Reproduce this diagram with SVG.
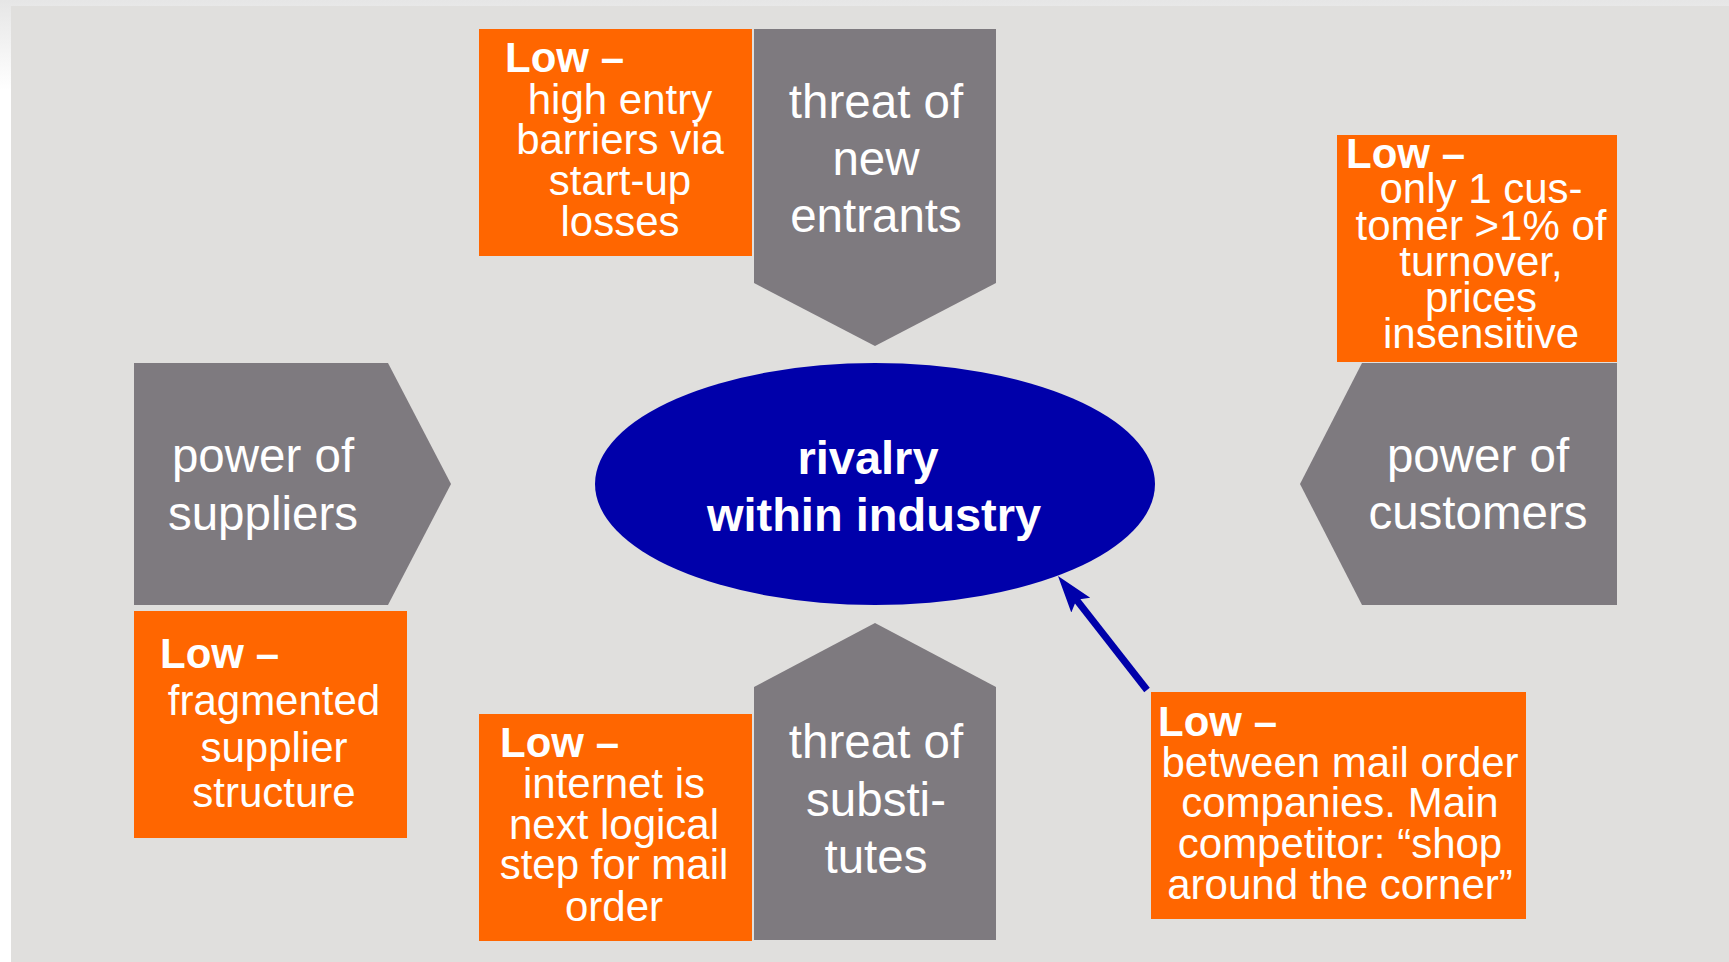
<svg xmlns="http://www.w3.org/2000/svg" width="1729" height="962" viewBox="0 0 1729 962">
  <defs>
    <linearGradient id="topfade" x1="0" y1="0" x2="0" y2="1">
      <stop offset="0" stop-color="#e6e6e6"/>
      <stop offset="1" stop-color="#ffffff"/>
    </linearGradient>
    <marker id="arrowhead" markerUnits="userSpaceOnUse" markerWidth="40" markerHeight="26" refX="17" refY="12" orient="auto">
      <path d="M0,0 L37,12 L0,24 L7,12 Z" fill="#0000AA"/>
    </marker>
    <style>
      .panel { fill: #E0DFDD; }
      .force { fill: #7E7A7F; }
      .box { fill: #FF6600; }
      .hub { fill: #0000AA; }
      text { font-family: "Liberation Sans", Arial, Helvetica, sans-serif; fill: #FFFFFF; }
      .lbl { font-size: 47.5px; text-anchor: middle; }
      .txt { font-size: 42px; text-anchor: middle; }
      .low { font-size: 42px; font-weight: bold; }
      .hubtxt { font-size: 47px; font-weight: bold; text-anchor: middle; }
      .conn { stroke: #0000AA; stroke-width: 7; fill: none; }
    </style>
  </defs>

  <rect x="0" y="0" width="1729" height="962" fill="#FFFFFF"/>
  <rect x="0" y="0" width="1729" height="90" fill="url(#topfade)"/>
  <rect class="panel" x="11" y="6" width="1718" height="956"/>

  <g id="threat-new-entrants">
    <path class="force" d="M754,29 L996,29 L996,283 L875,346 L754,283 Z"/>
    <text class="lbl" x="876" y="118">threat of</text>
    <text class="lbl" x="876" y="175">new</text>
    <text class="lbl" x="876" y="232">entrants</text>
  </g>

  <g id="note-new-entrants">
    <rect class="box" x="479" y="29" width="273" height="227"/>
    <text class="low" x="505" y="72">Low –</text>
    <text class="txt" x="620" y="114">high entry</text>
    <text class="txt" x="620" y="154">barriers via</text>
    <text class="txt" x="620" y="195">start-up</text>
    <text class="txt" x="620" y="236">losses</text>
  </g>

  <g id="power-customers">
    <path class="force" d="M1362,363 L1617,363 L1617,605 L1362,605 L1300,484 Z"/>
    <text class="lbl" x="1478" y="472">power of</text>
    <text class="lbl" x="1478" y="529">customers</text>
  </g>

  <g id="note-customers">
    <rect class="box" x="1337" y="135" width="280" height="227"/>
    <text class="low" x="1346" y="168">Low –</text>
    <text class="txt" x="1481" y="203">only 1 cus-</text>
    <text class="txt" x="1481" y="240">tomer &gt;1% of</text>
    <text class="txt" x="1481" y="276">turnover,</text>
    <text class="txt" x="1481" y="312">prices</text>
    <text class="txt" x="1481" y="348">insensitive</text>
  </g>

  <g id="power-suppliers">
    <path class="force" d="M134,363 L388,363 L451,484 L388,605 L134,605 Z"/>
    <text class="lbl" x="263" y="472">power of</text>
    <text class="lbl" x="263" y="530">suppliers</text>
  </g>

  <g id="note-suppliers">
    <rect class="box" x="134" y="611" width="273" height="227"/>
    <text class="low" x="160" y="668">Low –</text>
    <text class="txt" x="274" y="715">fragmented</text>
    <text class="txt" x="274" y="762">supplier</text>
    <text class="txt" x="274" y="807">structure</text>
  </g>

  <g id="threat-substitutes">
    <path class="force" d="M754,687 L875,623 L996,687 L996,940 L754,940 Z"/>
    <text class="lbl" x="876" y="758">threat of</text>
    <text class="lbl" x="876" y="816">substi-</text>
    <text class="lbl" x="876" y="873">tutes</text>
  </g>

  <g id="note-substitutes">
    <rect class="box" x="479" y="714" width="273" height="227"/>
    <text class="low" x="500" y="757">Low –</text>
    <text class="txt" x="614" y="798">internet is</text>
    <text class="txt" x="614" y="839">next logical</text>
    <text class="txt" x="614" y="879">step for mail</text>
    <text class="txt" x="614" y="921">order</text>
  </g>

  <g id="rivalry">
    <ellipse class="hub" cx="875" cy="484" rx="280" ry="121"/>
    <text class="hubtxt" x="868" y="474">rivalry</text>
    <text class="hubtxt" x="874" y="531">within industry</text>
  </g>

  <g id="note-rivalry">
    <rect class="box" x="1151" y="692" width="375" height="227"/>
    <text class="low" x="1158" y="736">Low –</text>
    <text class="txt" x="1340" y="777">between mail order</text>
    <text class="txt" x="1340" y="817">companies. Main</text>
    <text class="txt" x="1340" y="858">competitor: “shop</text>
    <text class="txt" x="1340" y="899">around the corner”</text>
  </g>

  <g id="connectors">
    <line class="conn" x1="1147" y1="690" x2="1070.3" y2="591.8" marker-end="url(#arrowhead)"/>
  </g>
</svg>
